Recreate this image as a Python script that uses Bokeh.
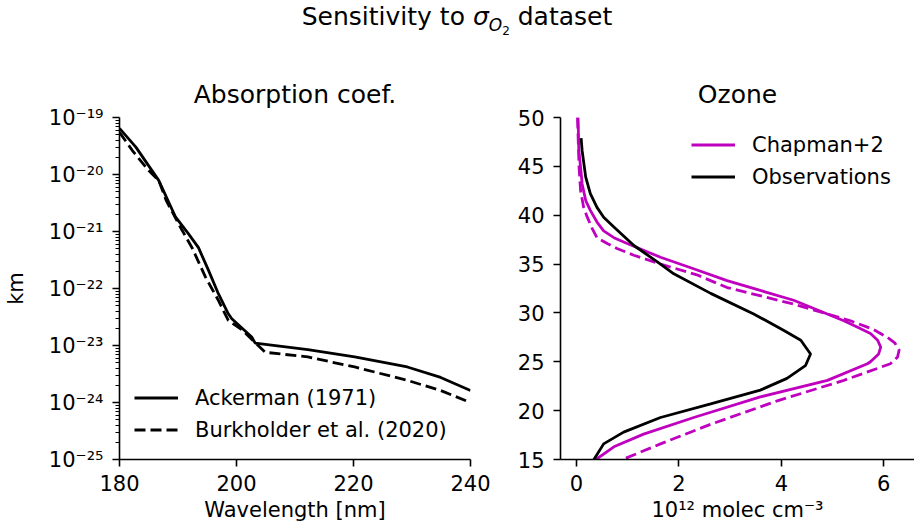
from bokeh.plotting import figure
from bokeh.models import (FixedTicker, CustomJSTickFormatter, Range1d, Legend,
                          LegendItem, Div)
from bokeh.layouts import column, row
from bokeh.embed import file_html
from bokeh.resources import INLINE

FONT = "DejaVu Sans"
MAGENTA = "#bf00bf"

# ---------------- data: absorption cross sections ----------------
ack_wavelength = [180, 182.8, 186.7, 189.6, 191.8, 193.5, 195.2, 196.9, 198.6,
                  199.2, 202.6, 203.2, 212.2, 220.2, 229.2, 234.9, 240]
ack_sigma = [6.46e-20, 3.02e-20, 7.9e-21, 1.78e-21, 9.1e-22, 5.2e-22, 2.1e-22,
             8.1e-23, 3.6e-23, 2.95e-23, 1.41e-23, 1.10e-23, 8.5e-24, 6.3e-24,
             4.2e-24, 2.75e-24, 1.62e-24]

bur_wavelength = [180, 182.2, 185.0, 186.7, 188.0, 190.7, 192.4, 194.7, 196.9,
                  198.6, 200.9, 204.9, 212.2, 220.2, 229.2, 234.9, 240]
bur_sigma = [5.5e-20, 2.63e-20, 1.17e-20, 7.9e-21, 3.47e-21, 1.05e-21, 5.2e-22,
             1.58e-22, 6.2e-23, 2.75e-23, 1.9e-23, 7.6e-24, 6.3e-24, 4.2e-24,
             2.45e-24, 1.62e-24, 1.0e-24]

# ---------------- data: ozone profiles ----------------
chap_alt = [50, 46.6, 44.9, 43.2, 41.5, 40.5, 39.3, 38.4, 37.7, 37.1, 35.7,
            34.5, 33.3, 31.3, 29.2, 28.5, 27.9, 27.2, 26.5, 25.8, 25.0, 24.8,
            23.1, 21.4, 19.3, 17.6, 16.3, 15.0]
chap_o3 = [0.03, 0.045, 0.08, 0.11, 0.18, 0.27, 0.40, 0.53, 0.73, 0.99, 1.64,
           2.3, 2.94, 4.24, 5.22, 5.5, 5.74, 5.88, 5.94, 5.9, 5.74, 5.68,
           4.9, 3.59, 2.29, 1.31, 0.73, 0.38]

chapb_alt = [50, 44.9, 42.5, 40.8, 39.8, 38.6, 37.7, 37.1, 36.6, 35.9, 35.0,
             33.9, 32.6, 30.9, 29.2, 28.3, 27.5, 26.9, 26.2, 25.5, 24.8, 23.1,
             21.0, 18.6, 16.6, 15.0]
chapb_o3 = [0.02, 0.05, 0.08, 0.14, 0.21, 0.31, 0.40, 0.6, 0.79, 1.12, 1.64,
            2.35, 2.94, 4.24, 5.35, 5.8, 6.07, 6.22, 6.3, 6.27, 6.13, 5.22,
            3.92, 2.62, 1.64, 0.90]

obs_alt = [47.9, 46.6, 43.9, 42.2, 40.8, 39.8, 38.8, 36.9, 35.0, 34.0, 32.0,
           29.9, 28.2, 27.2, 25.8, 24.6, 23.3, 22.1, 20.7, 19.3, 17.8, 16.6,
           15.0]
obs_o3 = [0.09, 0.11, 0.18, 0.27, 0.40, 0.53, 0.73, 1.12, 1.64, 1.9, 2.62,
          3.46, 4.05, 4.38, 4.57, 4.47, 4.11, 3.59, 2.62, 1.64, 0.92, 0.53,
          0.34]

# ---------------- ticks ----------------
left_x_ticks = [180, 200, 220, 240]
left_y_exponents = [-25, -24, -23, -22, -21, -20, -19]
right_x_ticks = [0, 2, 4, 6]
right_y_ticks = [15, 20, 25, 30, 35, 40, 45, 50]

LW = 2.8
DASH = "11 5"


def style(p):
    p.outline_line_color = None
    p.xgrid.visible = False
    p.ygrid.visible = False
    p.background_fill_color = "white"
    p.border_fill_color = "white"
    p.title.text_font = FONT
    p.title.text_font_size = "25px"
    p.title.text_font_style = "normal"
    p.title.align = "center"
    p.title.text_color = "black"
    p.title.standoff = 18
    for ax in (p.xaxis[0], p.yaxis[0]):
        ax.axis_line_width = 1.6
        ax.axis_line_color = "black"
        ax.major_tick_line_width = 1.6
        ax.minor_tick_line_width = 1.2
        ax.major_tick_out = 7
        ax.major_tick_in = 0
        ax.minor_tick_out = 4
        ax.minor_tick_in = 0
        ax.major_label_text_font = FONT
        ax.major_label_text_font_size = "21px"
        ax.major_label_text_color = "black"
        ax.axis_label_text_font = FONT
        ax.axis_label_text_font_size = "21px"
        ax.axis_label_text_font_style = "normal"
        ax.axis_label_text_color = "black"
    p.xaxis[0].major_label_standoff = 8
    p.xaxis[0].axis_label_standoff = 4
    p.yaxis[0].major_label_standoff = 9


def make_legend(items, loc):
    lg = Legend(items=items, location=loc)
    lg.background_fill_alpha = 0
    lg.border_line_alpha = 0
    lg.label_text_font = FONT
    lg.label_text_font_size = "21px"
    lg.label_text_color = "black"
    lg.glyph_width = 44
    lg.glyph_height = 29
    lg.label_height = 29
    lg.spacing = 3
    lg.padding = 5
    lg.margin = 0
    lg.label_standoff = 17
    return lg


# ---------------- left panel ----------------
p1 = figure(width=490, height=491, y_axis_type="log",
            x_range=Range1d(180, 240), y_range=Range1d(1e-25, 1e-19),
            output_backend="svg", toolbar_location=None,
            min_border_left=117, min_border_right=20,
            min_border_top=79, min_border_bottom=70,
            title="Absorption coef.")
r_ack = p1.line(ack_wavelength, ack_sigma, line_color="black", line_width=LW)
r_bur = p1.line(bur_wavelength, bur_sigma, line_color="black", line_width=LW,
                line_dash=DASH)
style(p1)
p1.xaxis[0].ticker = FixedTicker(ticks=left_x_ticks, minor_ticks=[])
major_y = [10.0 ** e for e in left_y_exponents]
minor_y = [k * 10.0 ** e for e in left_y_exponents[:-1] for k in range(2, 10)]
p1.yaxis[0].ticker = FixedTicker(ticks=major_y, minor_ticks=minor_y)
p1.yaxis[0].formatter = CustomJSTickFormatter(code="""
const sup = {'-':'\u207b','0':'\u2070','1':'\u00b9','2':'\u00b2','3':'\u00b3',
             '4':'\u2074','5':'\u2075','6':'\u2076','7':'\u2077','8':'\u2078','9':'\u2079'};
const e = Math.round(Math.log10(tick));
return '10' + String(e).split('').map(c => sup[c]).join('');
""")
p1.xaxis[0].axis_label = "Wavelength [nm]"
p1.yaxis[0].axis_label = "km"
p1.yaxis[0].axis_label_standoff = 18
p1.add_layout(make_legend([LegendItem(label="Ackerman (1971)", renderers=[r_ack]),
                           LegendItem(label="Burkholder et al. (2020)", renderers=[r_bur])],
                          (10, 10)))

# ---------------- right panel ----------------
p2 = figure(width=424, height=491,
            x_range=Range1d(-0.3125, 6.60), y_range=Range1d(15, 50),
            output_backend="svg", toolbar_location=None,
            min_border_left=70, min_border_right=0,
            min_border_top=79, min_border_bottom=70,
            title="Ozone")
r_chap = p2.line(chap_o3, chap_alt, line_color=MAGENTA, line_width=LW)
p2.line(chapb_o3, chapb_alt, line_color=MAGENTA, line_width=LW, line_dash=DASH)
r_obs = p2.line(obs_o3, obs_alt, line_color="black", line_width=LW)
style(p2)
p2.xaxis[0].ticker = FixedTicker(ticks=right_x_ticks, minor_ticks=[])
p2.yaxis[0].ticker = FixedTicker(ticks=right_y_ticks, minor_ticks=[])
p2.xaxis[0].axis_label = "10\u00b9\u00b2 molec cm\u207b\u00b3"
p2.add_layout(make_legend([LegendItem(label="Chapman+2", renderers=[r_chap]),
                           LegendItem(label="Observations", renderers=[r_obs])],
                          (126, 263)))

title_div = Div(
    text='<div style="font-family:\'DejaVu Sans\';font-size:25px;text-align:center;'
         'line-height:34px;color:black;width:914px;">Sensitivity to '
         '<i>\u03c3</i><sub style="font-size:17px;line-height:0;"><i>O</i>'
         '<sub style="font-size:12px;line-height:0;">2</sub></sub> dataset</div>',
    width=914, height=38, margin=0)

layout = column(title_div, row(p1, p2))

with open("out.html", "w") as f:
    f.write(file_html(layout, INLINE))
